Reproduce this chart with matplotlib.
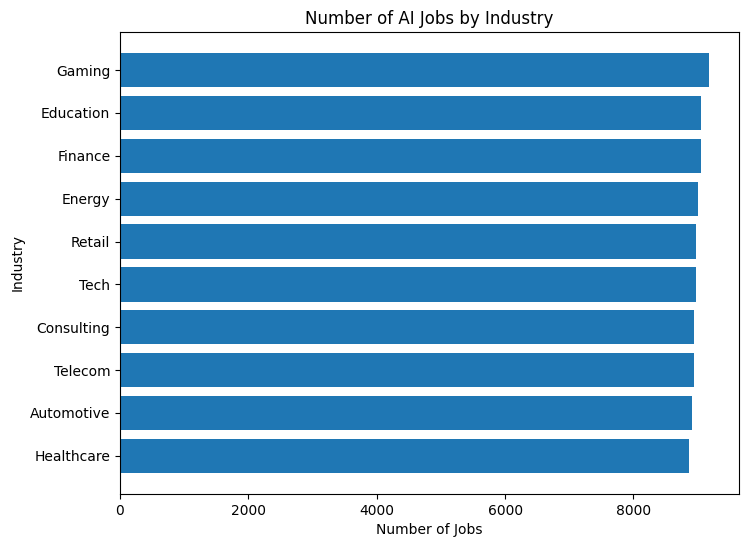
import matplotlib
matplotlib.use("Agg")
import matplotlib.pyplot as plt

# AI job counts per industry
industries = ["Healthcare", "Automotive", "Telecom", "Consulting", "Tech",
              "Retail", "Energy", "Finance", "Education", "Gaming"]
job_counts = [8872, 8919, 8935, 8950, 8981, 8981, 9012, 9059, 9059, 9184]

fig, ax = plt.subplots(figsize=(7.49, 5.47), dpi=100)
fig.subplots_adjust(left=0.1602, right=0.9866, top=0.9415, bottom=0.0969)

ax.barh(industries, job_counts, color="#1f77b4")
ax.set_title("Number of AI Jobs by Industry")
ax.set_xlabel("Number of Jobs")
ax.set_ylabel("Industry")

fig.savefig("out.png", dpi=100)
